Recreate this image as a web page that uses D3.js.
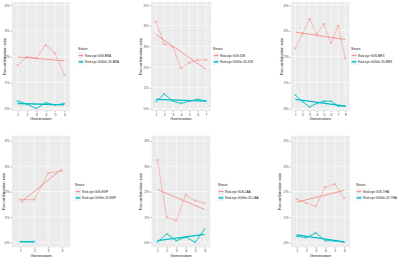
<!DOCTYPE html>
<html>
<head>
<meta charset="utf-8">
<script src="https://cdn.jsdelivr.net/npm/d3@7"></script>
<style>
  body { margin: 0; background: #fff; }
  svg { display: block; font-family: "Liberation Sans", Arial, sans-serif; }
</style>
</head>
<body>
<div id="chart"></div>
<script>
// Strains / populations, one panel each
const populations = ['BRA', 'IDN', 'MEX', 'ESP', 'LAA', 'THA'];

// Generations per panel
const gensBRA = [1, 2, 3, 4, 5, 6];
const gensIDN = [1, 2, 3, 4, 5, 6, 7];
const gensMEX = [1, 2, 3, 4, 5, 6, 7, 8];
const gensESP = [1, 2, 3, 4];
const gensLAA = [1, 2, 3, 4, 5, 6];
const gensTHA = [1, 2, 3, 4, 5, 6];

// Recombination rate (%) - Red-eye G0S
const redBRA = [1.68, 2.0, 1.94, 2.45, 2.13, 1.29];
const redIDN = [4.19, 3.1, 2.98, 1.94, 2.21, 2.34, 2.34];
const redMEX = [2.32, 2.87, 3.46, 2.87, 3.26, 2.52, 3.19, 1.94];
const redESP = [1.68, 1.68, 2.72, 2.82];
const redLAA = [3.24, 0.98, 0.85, 1.87, 1.64, 1.54];
const redTHA = [1.70, 1.54, 1.42, 2.17, 2.30, 1.74];

// Recombination rate (%) - Red-eye G0S/m-35
const cyanBRA = [0.29, 0.155, 0.0, 0.22, 0.13, 0.19];
const cyanIDN = [0.32, 0.69, 0.35, 0.24, 0.35, 0.44, 0.35];
const cyanMEX = [0.52, 0.26, 0.06, 0.19, 0.28, 0.28, 0.09, 0.09];
const cyanESP = [0.02, 0.02];
const cyanLAA = [0.0, 0.33, 0.06, 0.2, 0.0, 0.52];
const cyanTHA = [0.24, 0.18, 0.37, 0.06, 0.05, 0.0];

// y axis ticks and ranges
const yTicks4 = [0, 1, 2, 3, 4];
const yTicks5 = [0, 1, 2, 3, 4, 5];
const yDomains = [[-0.1, 4.11], [-0.13, 5.14], [-0.1, 4.11], [-0.2, 4.2], [-0.2, 4.2], [-0.2, 4.2]];

const gens = [gensBRA, gensIDN, gensMEX, gensESP, gensLAA, gensTHA];
const reds = [redBRA, redIDN, redMEX, redESP, redLAA, redTHA];
const cyans = [cyanBRA, cyanIDN, cyanMEX, cyanESP, cyanLAA, cyanTHA];
const ticks = [yTicks4, yTicks5, yTicks4, yTicks4, yTicks4, yTicks4];

const RED = '#F8766D', CYAN = '#00BFC4';

// panel geometry
const layout = [
  {x0: 12, x1: 70, top: 2, bottom: 111, titleX: 4, legX: 78, legY: 50},
  {x0: 151, x1: 211, top: 2, bottom: 111, titleX: 140, legX: 213, legY: 50},
  {x0: 291, x1: 349.5, top: 2, bottom: 111, titleX: 281, legX: 351, legY: 50},
  {x0: 12, x1: 70.3, top: 135.7, bottom: 247.3, titleX: 3.5, legX: 75, legY: 186},
  {x0: 151.7, x1: 210.3, top: 135.7, bottom: 247.3, titleX: 140, legX: 218, legY: 186},
  {x0: 291, x1: 350, top: 135.7, bottom: 247.3, titleX: 279, legX: 356, legY: 186}
];

const svg = d3.select('#chart').append('svg')
  .attr('width', 400).attr('height', 258);

function linearFit(xs, ys) {
  const n = xs.length;
  const mx = d3.mean(xs), my = d3.mean(ys);
  let sxy = 0, sxx = 0;
  for (let i = 0; i < n; i++) {
    sxy += (xs[i] - mx) * (ys[i] - my);
    sxx += (xs[i] - mx) * (xs[i] - mx);
  }
  const b = sxy / sxx;
  return x => my + b * (x - mx);
}

populations.forEach((pop, i) => {
  const L = layout[i];
  const g = svg.append('g');

  const x = d3.scalePoint()
    .domain(gens[i])
    .range([L.x0, L.x1])
    .padding(0.6);
  const y = d3.scaleLinear()
    .domain(yDomains[i])
    .range([L.bottom, L.top]);

  // panel background
  g.append('rect')
    .attr('x', L.x0).attr('y', L.top)
    .attr('width', L.x1 - L.x0).attr('height', L.bottom - L.top)
    .attr('fill', '#EBEBEB');

  // minor grid
  const tk = ticks[i];
  const minor = tk.slice(0, -1).map(t => t + 0.5);
  g.selectAll('.minor').data(minor).enter().append('line')
    .attr('x1', L.x0).attr('x2', L.x1)
    .attr('y1', d => y(d)).attr('y2', d => y(d))
    .attr('stroke', '#fff').attr('stroke-width', 0.3);
  // major grid
  g.selectAll('.hmajor').data(tk).enter().append('line')
    .attr('x1', L.x0).attr('x2', L.x1)
    .attr('y1', d => y(d)).attr('y2', d => y(d))
    .attr('stroke', '#fff').attr('stroke-width', 0.6);
  g.selectAll('.vmajor').data(gens[i]).enter().append('line')
    .attr('x1', d => x(d)).attr('x2', d => x(d))
    .attr('y1', L.top).attr('y2', L.bottom)
    .attr('stroke', '#fff').attr('stroke-width', 0.6);

  // axes
  const ya = g.append('g')
    .attr('transform', `translate(${L.x0},0)`)
    .call(d3.axisLeft(y).tickValues(tk).tickFormat(d => d + '%').tickSize(1.2).tickPadding(1));
  ya.select('.domain').remove();
  ya.selectAll('line').attr('stroke', '#333').attr('stroke-width', 0.4);
  ya.selectAll('text').attr('font-size', 3.6).attr('fill', '#4D4D4D');

  const xa = g.append('g')
    .attr('transform', `translate(0,${L.bottom})`)
    .call(d3.axisBottom(x).tickSize(1.2).tickPadding(0.8));
  xa.select('.domain').remove();
  xa.selectAll('line').attr('stroke', '#333').attr('stroke-width', 0.4);
  xa.selectAll('text').attr('font-size', 3.6).attr('fill', '#4D4D4D');

  // axis titles
  g.append('text')
    .attr('x', (L.x0 + L.x1) / 2).attr('y', L.bottom + 9.2)
    .attr('text-anchor', 'middle').attr('font-size', 4.3).attr('fill', '#222')
    .text('Generation');
  g.append('text')
    .attr('transform', `translate(${L.titleX + 1.5},${(L.top + L.bottom) / 2}) rotate(-90)`)
    .attr('text-anchor', 'middle').attr('font-size', 4.3).attr('fill', '#222')
    .text('Recombination rate');

  // series
  const series = [
    {vals: reds[i], color: RED, lineOp: 0.7, lw: 0.6, tw: 0.7},
    {vals: cyans[i], color: CYAN, lineOp: 1, lw: 0.9, tw: 1.3}
  ];
  series.forEach(s => {
    const xs = gens[i].slice(0, s.vals.length);
    const pts = xs.map((gv, k) => ({g: gv, v: s.vals[k]}));
    const line = d3.line().x(d => x(d.g)).y(d => y(d.v));
    g.append('path').datum(pts)
      .attr('d', line).attr('fill', 'none')
      .attr('stroke', s.color).attr('stroke-width', s.lw).attr('stroke-opacity', s.lineOp);
    // linear trend
    const fit = linearFit(xs, s.vals);
    const ends = [xs[0], xs[xs.length - 1]].map(gv => ({g: gv, v: fit(gv)}));
    g.append('path').datum(ends)
      .attr('d', line).attr('fill', 'none')
      .attr('stroke', s.color).attr('stroke-width', s.tw);
    g.selectAll(null).data(pts).enter().append('path')
      .attr('transform', d => `translate(${x(d.g)},${y(d.v)})`)
      .attr('d', d3.symbol().type(d3.symbolTimes).size(3))
      .attr('fill', 'none').attr('stroke', s.color).attr('stroke-width', 0.5);
  });

  // legend
  const leg = g.append('g').attr('transform', `translate(${L.legX},${L.legY})`);
  leg.append('text').attr('x', 0).attr('y', 0)
    .attr('font-size', 3.6).attr('fill', '#222').text('Strain');
  const labels = [`Red-eye G0S-${pop}`, `Red-eye G0S/m-35-${pop}`];
  labels.forEach((lab, k) => {
    const ly = 5.5 + k * 6.3;
    leg.append('rect').attr('x', 0).attr('y', ly - 3)
      .attr('width', 6).attr('height', 6).attr('fill', '#F2F2F2');
    leg.append('line')
      .attr('x1', 0.6).attr('x2', 5.4).attr('y1', ly).attr('y2', ly)
      .attr('stroke', series[k].color).attr('stroke-width', series[k].tw);
    leg.append('path')
      .attr('transform', `translate(3,${ly})`)
      .attr('d', d3.symbol().type(d3.symbolTimes).size(3))
      .attr('fill', 'none').attr('stroke', series[k].color).attr('stroke-width', 0.5);
    leg.append('text').attr('x', 7).attr('y', ly + 1.1)
      .attr('font-size', 3.1).attr('fill', '#222').text(lab);
  });
});
</script>
</body>
</html>
